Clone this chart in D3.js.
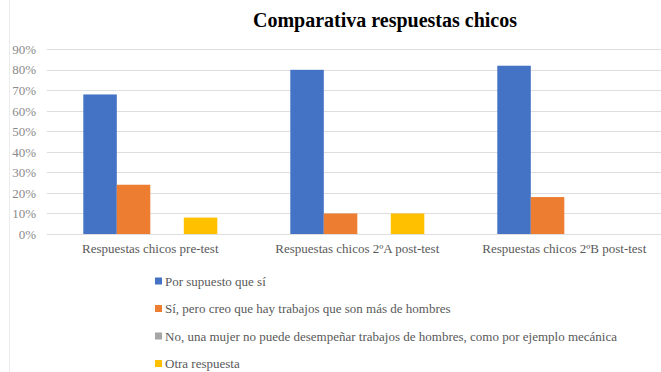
<!DOCTYPE html>
<html>
<head>
<meta charset="utf-8">
<script src="https://cdn.jsdelivr.net/npm/d3@7"></script>
<style>
  html, body { margin: 0; padding: 0; background: #fff; }
  svg { display: block; }
  text { font-family: "Liberation Serif", "Times New Roman", serif; }
</style>
</head>
<body>
<svg id="chart" width="661" height="372"></svg>
<script>
// Categories (groups on the x axis)
const categories = [
  "Respuestas chicos pre-test",
  "Respuestas chicos 2ºA post-test",
  "Respuestas chicos 2ºB post-test"
];

// Series names (answers)
const seriesNames = [
  "Por supuesto que sí",
  "Sí, pero creo que hay trabajos que son más de hombres",
  "No, una mujer no puede desempeñar trabajos de hombres, como por ejemplo mecánica",
  "Otra respuesta"
];

// Values per series, one per category (fractions)
const porSupuesto = [0.68, 0.80, 0.82];
const siPero      = [0.24, 0.10, 0.18];
const noMujer     = [0.00, 0.00, 0.00];
const otra        = [0.08, 0.10, 0.00];

const seriesColors = ["#4472C4", "#ED7D31", "#A5A5A5", "#FFC000"];

// Y axis ticks
const yTicks = [0, 0.1, 0.2, 0.3, 0.4, 0.5, 0.6, 0.7, 0.8, 0.9];

const seriesValues = [porSupuesto, siPero, noMujer, otra];

const svg = d3.select("#chart");

// Outer chart frame edge on the left
svg.append("line")
  .attr("x1", 9.5).attr("x2", 9.5)
  .attr("y1", 0).attr("y2", 372)
  .attr("stroke", "#ececec").attr("stroke-width", 1);

// Title
svg.append("text")
  .attr("x", 385).attr("y", 27)
  .attr("text-anchor", "middle")
  .attr("font-size", 20)
  .attr("font-weight", "bold")
  .attr("fill", "#000")
  .text("Comparativa respuestas chicos");

// Scales
const plotLeft = 46.8, plotRight = 667.8;
const y = d3.scaleLinear().domain([0, 0.9]).range([234, 49.3]);
const pad = 73 / 207;
const x0 = d3.scaleBand().domain(categories).range([plotLeft, plotRight])
  .paddingInner(pad).paddingOuter(pad / 2);
const x1 = d3.scaleBand().domain(d3.range(seriesNames.length)).range([0, x0.bandwidth()]);

// Gridlines
svg.append("g")
  .selectAll("line")
  .data(yTicks)
  .join("line")
  .attr("x1", plotLeft).attr("x2", plotRight)
  .attr("y1", d => Math.round(y(d)) + 0.5)
  .attr("y2", d => Math.round(y(d)) + 0.5)
  .attr("stroke", "#dedede").attr("stroke-width", 1);

// Y axis labels
const yAxis = d3.axisLeft(y).tickValues(yTicks).tickFormat(d3.format(".0%")).tickSize(0).tickPadding(0);
const yg = svg.append("g").attr("transform", "translate(36,0)").call(yAxis);
yg.select(".domain").remove();
yg.selectAll("text")
  .attr("font-size", 13)
  .attr("fill", "#8a8a8a");

// Bars
const groups = svg.append("g")
  .selectAll("g")
  .data(categories)
  .join("g")
  .attr("transform", d => `translate(${x0(d)},0)`);

groups.selectAll("rect")
  .data((c, ci) => seriesValues.map((vals, si) => ({ si, v: vals[ci] })))
  .join("rect")
  .attr("x", d => x1(d.si))
  .attr("width", x1.bandwidth())
  .attr("y", d => y(d.v))
  .attr("height", d => y(0) - y(d.v))
  .attr("fill", d => seriesColors[d.si]);

// Category labels
const xAxis = d3.axisBottom(x0).tickSize(0).tickPadding(0);
const xg = svg.append("g").attr("transform", "translate(0,244)").call(xAxis);
xg.select(".domain").remove();
xg.selectAll("text")
  .attr("font-size", 13)
  .attr("fill", "#595959");

// Legend
const legend = svg.append("g")
  .selectAll("g")
  .data(seriesNames)
  .join("g")
  .attr("transform", (d, i) => `translate(155,${281 + i * 27.5})`);

legend.append("rect")
  .attr("x", 0).attr("y", -3.5)
  .attr("width", 7).attr("height", 7)
  .attr("fill", (d, i) => seriesColors[i]);

legend.append("text")
  .attr("x", 10).attr("y", 4.5)
  .attr("font-size", 13)
  .attr("fill", "#595959")
  .text(d => d);
</script>
</body>
</html>
